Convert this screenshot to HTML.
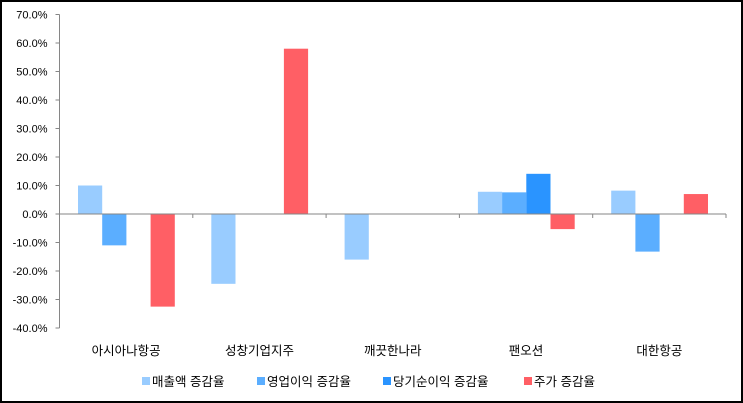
<!DOCTYPE html>
<html><head><meta charset="utf-8"><style>
body{margin:0;background:#fff}
#c{position:relative;width:743px;height:403px;box-sizing:border-box;border:2px solid #000;background:#fff}
svg{position:absolute;left:-2px;top:-2px}
text{font-family:"Liberation Sans","Noto Sans CJK KR",sans-serif;fill:#000}
</style></head><body>
<div id="c">
<svg id="s" width="743" height="403"></svg>
</div>
<script>
const categories=["아시아나항공","성창기업지주","깨끗한나라","팬오션","대한항공"];
const seriesNames=["매출액 증감율","영업이익 증감율","당기순이익 증감율","주가 증감율"];
const sales=[10.0,-24.5,-16.0,7.8,8.2];
const opProfit=[-11.0,0,0,7.6,-13.2];
const netProfit=[0,0,0,14.1,0];
const stock=[-32.5,58.0,0,-5.3,7.0];
const yTicks=[70,60,50,40,30,20,10,0,-10,-20,-30,-40];
const colors=["#99CCFF","#5BAEFF","#2A94FF","#FF5F65"];
const series=[sales,opProfit,netProfit,stock];
const NS="http://www.w3.org/2000/svg";
const s=document.getElementById('s');
const x0=59.5,x1=726,yTop=14.5,yBot=328,vMax=70,vMin=-40;
const y=v=>yTop+(vMax-v)/(vMax-vMin)*(yBot-yTop);
const cw=(x1-x0)/categories.length;
function mk(t,a){const e=document.createElementNS(NS,t);for(const k in a)e.setAttribute(k,a[k]);s.appendChild(e);return e;}
series.forEach((arr,si)=>{arr.forEach((v,ci)=>{if(v===0)return;
const bx=x0+ci*cw+18.5+si*24.2;
const r=mk('rect',{x:bx,y:Math.min(y(v),y(0)),width:24.2,height:Math.abs(y(v)-y(0)),fill:colors[si]});

});});
const ya=mk('line',{x1:x0,y1:yTop,x2:x0,y2:yBot,stroke:'#868686'});

yTicks.forEach(v=>{mk('line',{x1:x0-4,y1:y(v),x2:x0,y2:y(v),stroke:'#868686'});
const t=mk('text',{x:x0-12,y:y(v)+4,'text-anchor':'end','font-size':11});t.textContent=v.toFixed(1)+'%';
});
const xa=mk('line',{x1:x0,y1:y(0),x2:x1,y2:y(0),stroke:'#868686'});

for(let i=0;i<=categories.length;i++)mk('line',{x1:x0+i*cw,y1:y(0),x2:x0+i*cw,y2:y(0)+4,stroke:'#868686'});
categories.forEach((c,i)=>{const t=mk('text',{x:x0+(i+0.5)*cw,y:355,'text-anchor':'middle','font-size':12.5,fill:'#222'});t.textContent=c;
});
const lx=[142,257,383,524];
seriesNames.forEach((n,i)=>{const g=mk('g',{});
const r=document.createElementNS(NS,'rect');r.setAttribute('x',lx[i]);r.setAttribute('y',377);r.setAttribute('width',8);r.setAttribute('height',8);r.setAttribute('fill',colors[i]);g.appendChild(r);
const t=document.createElementNS(NS,'text');t.setAttribute('x',lx[i]+10);t.setAttribute('y',386);t.setAttribute('font-size',12.5);t.textContent=n;g.appendChild(t);});
</script>
</body></html>
